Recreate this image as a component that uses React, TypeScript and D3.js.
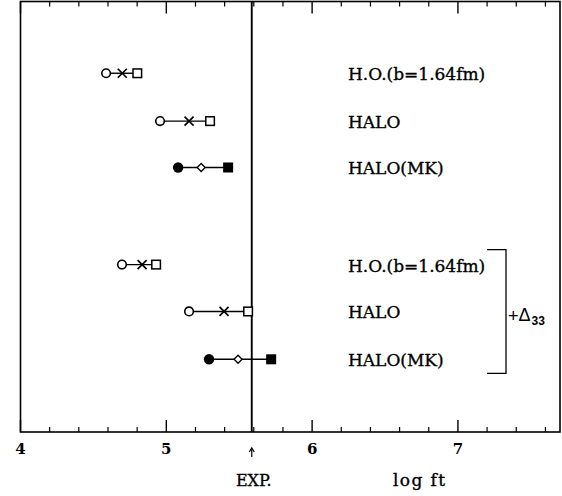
import React from "react";
import * as d3 from "d3";

const W = 562;
const H = 496;

// log ft values per row: [circle, middle(cross/diamond), square]
const rowLabels = ["H.O.(b=1.64fm)", "HALO", "HALO(MK)", "H.O.(b=1.64fm)", "HALO", "HALO(MK)"];
const rowPos = [1.5, 2.5, 3.47, 5.5, 6.48, 7.48];
const circleVals = [4.587, 4.957, 5.081, 4.696, 5.156, 5.293];
const middleVals = [4.698, 5.156, 5.239, 4.834, 5.396, 5.492];
const squareVals = [4.801, 5.3, 5.424, 4.93, 5.561, 5.719];
const filled = [false, false, true, false, false, true];
const majorTicks = [4, 5, 6, 7];
const minorTicks = d3.range(4, 7.7, 0.2).map((v) => +v.toFixed(1)).filter((v) => Math.abs(v - Math.round(v)) > 1e-6);
const expValue = 5.586;

const FONT = "'DejaVu Serif', serif";
const SANS = "'Liberation Sans', Arial, sans-serif";

export default function App() {
  const x = d3.scaleLinear().domain([4, 7.7]).range([20.5, 560]);
  const y = d3.scaleLinear().domain([0, 9]).range([1.5, 432]);
  const top = y(0);
  const bottom = y(9);
  const left = x(4);
  const right = x(7.7);
  const ex = x(expValue);

  const by0 = y(rowPos[3]) - 15;
  const by1 = y(rowPos[5]) + 14;

  return (
    <svg width={W} height={H} style={{ position: "absolute", left: 0, top: 0, background: "#fff" }}>
      <rect x={0} y={0} width={W} height={H} fill="#fff" />
      {/* frame */}
      <rect x={left} y={top} width={right - left} height={bottom - top} fill="none" stroke="#000" strokeWidth={1.6} />
      {/* ticks */}
      {majorTicks.map((t) => (
        <g key={"M" + t}>
          <line x1={x(t)} x2={x(t)} y1={top} y2={top + 12} stroke="#000" strokeWidth={1.4} />
          <line x1={x(t)} x2={x(t)} y1={bottom} y2={bottom - 12} stroke="#000" strokeWidth={1.4} />
          <text x={x(t)} y={454} textAnchor="middle" fontFamily={FONT} fontWeight="bold" fontSize={15} fill="#000">
            {t}
          </text>
        </g>
      ))}
      {minorTicks.map((t) => (
        <g key={"m" + t}>
          <line x1={x(t)} x2={x(t)} y1={top} y2={top + 5} stroke="#000" strokeWidth={1.2} />
          <line x1={x(t)} x2={x(t)} y1={bottom} y2={bottom - 5} stroke="#000" strokeWidth={1.2} />
        </g>
      ))}
      {/* EXP line */}
      <line x1={ex} x2={ex} y1={top} y2={bottom} stroke="#000" strokeWidth={1.9} />
      {/* arrow */}
      <line x1={ex} x2={ex} y1={457} y2={449} stroke="#000" strokeWidth={1.2} />
      <path d={`M${ex - 2.5},${452} L${ex},${448} L${ex + 2.5},${452}`} fill="none" stroke="#000" strokeWidth={1.2} />
      <text x={ex + 2} y={486} textAnchor="middle" fontFamily={FONT} fontSize={16} fill="#000" stroke="#000" strokeWidth={0.35}>
        EXP.
      </text>
      <text x={393} y={486} textLength={52} lengthAdjust="spacing" fontFamily={FONT} fontSize={17} fill="#000" stroke="#000" strokeWidth={0.35}>
        log ft
      </text>
      {/* rows */}
      {rowPos.map((p, i) => {
        const yy = y(p);
        const cx = x(circleVals[i]);
        const mx = x(middleVals[i]);
        const sx = x(squareVals[i]);
        const f = filled[i];
        return (
          <g key={i}>
            <line x1={cx} x2={sx} y1={yy} y2={yy} stroke="#000" strokeWidth={1.4} />
            {f ? (
              <circle cx={cx} cy={yy} r={5.2} fill="#000" />
            ) : (
              <circle cx={cx} cy={yy} r={4.3} fill="#fff" stroke="#000" strokeWidth={1.6} />
            )}
            {f ? (
              <path d={`M${mx - 4},${yy} L${mx},${yy - 4} L${mx + 4},${yy} L${mx},${yy + 4} Z`} fill="#fff" stroke="#000" strokeWidth={1.3} />
            ) : (
              <path d={`M${mx - 4.5},${yy - 4.5} L${mx + 4.5},${yy + 4.5} M${mx - 4.5},${yy + 4.5} L${mx + 4.5},${yy - 4.5}`} stroke="#000" strokeWidth={1.7} />
            )}
            {f ? (
              <rect x={sx - 5} y={yy - 5} width={10} height={10} fill="#000" />
            ) : (
              <rect x={sx - 4.3} y={yy - 4.3} width={8.6} height={8.6} fill="#fff" stroke="#000" strokeWidth={1.5} />
            )}
            <text x={348} y={yy + 7} fontFamily={FONT} fontSize={17} fill="#000" stroke="#000" strokeWidth={0.35}>
              {rowLabels[i]}
            </text>
          </g>
        );
      })}
      {/* bracket */}
      <path d={`M487,${by0} L506,${by0} L506,${by1} L487,${by1}`} fill="none" stroke="#000" strokeWidth={1.3} />
      <text x={508} y={322} fontFamily={SANS} fontSize={18} fill="#000">
        +
      </text>
      <text x={518.5} y={321} fontFamily={SANS} fontSize={18} fill="#000">
        Δ
      </text>
      <text x={531.5} y={325} fontFamily={SANS} fontSize={12} fontWeight="bold" fill="#000">
        33
      </text>
    </svg>
  );
}
